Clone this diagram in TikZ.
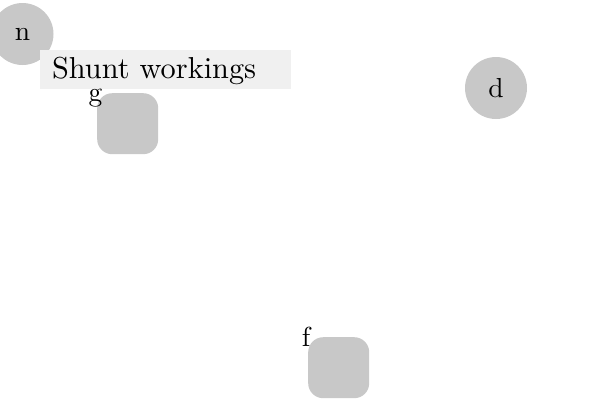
\documentclass[tikz,border=0pt]{standalone}
\usepackage{tikz}
\definecolor{shapegray}{HTML}{C8C8C8}
\definecolor{boxgray}{HTML}{F0F0F0}
\tikzset{
  letter/.style={font=\fontsize{10}{12}\selectfont},
  stop/.style={circle,fill=shapegray,minimum size=62pt,inner sep=0pt},
  yard/.style={fill=shapegray,rounded corners=15pt,minimum size=61pt,inner sep=0pt,anchor=north west}
}
\begin{document}
\begin{tikzpicture}[x=1pt,y=-1pt]
            \useasboundingbox(0,0)rectangle(600,400);
            \node[stop](n)at(22.5,34){};
            \node[letter,scale=2.75]at(n){n};
            \node[stop](d)at(496,88){};
            \node[letter,scale=2.75]at(d){d};
            \node[fill=boxgray,minimum width=251pt,minimum height=39pt,inner sep=0pt,anchor=north west]at(40,50)(shunt){};
            \node[letter,anchor=base west,inner sep=0pt,scale=3.03]at([xshift=11.5pt,yshift=-8.5pt]shunt.west){Shunt workings};
            \node[yard]at(97,93)(g){};
            \node[yard]at(308,337)(f){};
            \node[letter,anchor=base,inner sep=0pt,scale=2.75]at([xshift=-1.5pt,yshift=-8.5pt]g.north west){g};
            \node[letter,anchor=base,inner sep=0pt,scale=2.75]at([xshift=-2pt,yshift=-9pt]f.north west){f};
        \end{tikzpicture}
\end{document}
